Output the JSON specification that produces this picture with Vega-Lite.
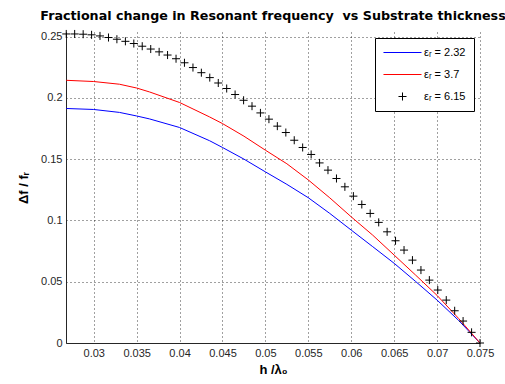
{
  "$schema": "https://vega.github.io/schema/vega-lite/v6.json",
  "width": 414,
  "height": 311,
  "autosize": "none",
  "padding": {"left": 66, "top": 32, "right": 25, "bottom": 41},
  "background": "white",
  "title": {"text": "Fractional change in Resonant frequency \u00a0vs Substrate thickness", "font": "DejaVu Sans", "fontSize": 12.7, "fontWeight": "bold", "color": "#000000", "offset": 5, "anchor": "middle"},
  "config": {
    "view": {"stroke": null},
    "axis": {
      "labelFont": "Liberation Sans", "labelFontSize": 11, "labelColor": "#262626", "labelFlush": false,
      "titleFont": "Liberation Sans", "titleFontSize": 13, "titleFontWeight": "bold", "titleColor": "#000000",
      "domainColor": "#262626", "domainWidth": 1, "ticks": false,
      "grid": true, "gridColor": "#000000", "gridDash": [1, 3], "gridOpacity": 0.75, "gridWidth": 1
    },
    "legend": {
      "orient": "top-right", "offset": 6, "padding": 8, "strokeColor": "#000000", "fillColor": "#ffffff",
      "labelFont": "Liberation Sans", "labelFontSize": 11, "labelColor": "#000000", "labelOffset": 15,
      "symbolSize": 144, "symbolOffset": 13, "symbolStrokeWidth": 1, "title": null, "rowPadding": 10
    }
  },
  "data": {"values": [
    {"series": "εᵣ = 2.32", "x": 0.0268, "y": 0.1913},
    {"series": "εᵣ = 2.32", "x": 0.0300, "y": 0.1905},
    {"series": "εᵣ = 2.32", "x": 0.0330, "y": 0.1881},
    {"series": "εᵣ = 2.32", "x": 0.0350, "y": 0.1852},
    {"series": "εᵣ = 2.32", "x": 0.0365, "y": 0.1828},
    {"series": "εᵣ = 2.32", "x": 0.0400, "y": 0.1758},
    {"series": "εᵣ = 2.32", "x": 0.0435, "y": 0.1650},
    {"series": "εᵣ = 2.32", "x": 0.0450, "y": 0.1595},
    {"series": "εᵣ = 2.32", "x": 0.0475, "y": 0.1500},
    {"series": "εᵣ = 2.32", "x": 0.0500, "y": 0.1396},
    {"series": "εᵣ = 2.32", "x": 0.0525, "y": 0.1294},
    {"series": "εᵣ = 2.32", "x": 0.0550, "y": 0.1185},
    {"series": "εᵣ = 2.32", "x": 0.0575, "y": 0.1057},
    {"series": "εᵣ = 2.32", "x": 0.0600, "y": 0.0921},
    {"series": "εᵣ = 2.32", "x": 0.0625, "y": 0.0786},
    {"series": "εᵣ = 2.32", "x": 0.0650, "y": 0.0650},
    {"series": "εᵣ = 2.32", "x": 0.0675, "y": 0.0502},
    {"series": "εᵣ = 2.32", "x": 0.0700, "y": 0.0350},
    {"series": "εᵣ = 2.32", "x": 0.0725, "y": 0.0185},
    {"series": "εᵣ = 2.32", "x": 0.0750, "y": 0.0000},
    {"series": "εᵣ = 3.7", "x": 0.0268, "y": 0.2143},
    {"series": "εᵣ = 3.7", "x": 0.0300, "y": 0.2133},
    {"series": "εᵣ = 3.7", "x": 0.0330, "y": 0.2111},
    {"series": "εᵣ = 3.7", "x": 0.0350, "y": 0.2080},
    {"series": "εᵣ = 3.7", "x": 0.0365, "y": 0.2048},
    {"series": "εᵣ = 3.7", "x": 0.0400, "y": 0.1962},
    {"series": "εᵣ = 3.7", "x": 0.0435, "y": 0.1844},
    {"series": "εᵣ = 3.7", "x": 0.0450, "y": 0.1790},
    {"series": "εᵣ = 3.7", "x": 0.0475, "y": 0.1687},
    {"series": "εᵣ = 3.7", "x": 0.0500, "y": 0.1573},
    {"series": "εᵣ = 3.7", "x": 0.0525, "y": 0.1462},
    {"series": "εᵣ = 3.7", "x": 0.0550, "y": 0.1330},
    {"series": "εᵣ = 3.7", "x": 0.0575, "y": 0.1184},
    {"series": "εᵣ = 3.7", "x": 0.0600, "y": 0.1029},
    {"series": "εᵣ = 3.7", "x": 0.0625, "y": 0.0880},
    {"series": "εᵣ = 3.7", "x": 0.0650, "y": 0.0717},
    {"series": "εᵣ = 3.7", "x": 0.0675, "y": 0.0554},
    {"series": "εᵣ = 3.7", "x": 0.0700, "y": 0.0388},
    {"series": "εᵣ = 3.7", "x": 0.0725, "y": 0.0201},
    {"series": "εᵣ = 3.7", "x": 0.0750, "y": 0.0000},
    {"series": "εᵣ = 6.15", "x": 0.02680, "y": 0.2521},
    {"series": "εᵣ = 6.15", "x": 0.02778, "y": 0.2521},
    {"series": "εᵣ = 6.15", "x": 0.02877, "y": 0.2519},
    {"series": "εᵣ = 6.15", "x": 0.02975, "y": 0.2514},
    {"series": "εᵣ = 6.15", "x": 0.03073, "y": 0.2505},
    {"series": "εᵣ = 6.15", "x": 0.03172, "y": 0.2492},
    {"series": "εᵣ = 6.15", "x": 0.03270, "y": 0.2478},
    {"series": "εᵣ = 6.15", "x": 0.03369, "y": 0.2461},
    {"series": "εᵣ = 6.15", "x": 0.03467, "y": 0.2443},
    {"series": "εᵣ = 6.15", "x": 0.03565, "y": 0.2421},
    {"series": "εᵣ = 6.15", "x": 0.03664, "y": 0.2398},
    {"series": "εᵣ = 6.15", "x": 0.03762, "y": 0.2375},
    {"series": "εᵣ = 6.15", "x": 0.03860, "y": 0.2349},
    {"series": "εᵣ = 6.15", "x": 0.03959, "y": 0.2319},
    {"series": "εᵣ = 6.15", "x": 0.04057, "y": 0.2286},
    {"series": "εᵣ = 6.15", "x": 0.04156, "y": 0.2247},
    {"series": "εᵣ = 6.15", "x": 0.04254, "y": 0.2205},
    {"series": "εᵣ = 6.15", "x": 0.04352, "y": 0.2165},
    {"series": "εᵣ = 6.15", "x": 0.04451, "y": 0.2121},
    {"series": "εᵣ = 6.15", "x": 0.04549, "y": 0.2076},
    {"series": "εᵣ = 6.15", "x": 0.04647, "y": 0.2027},
    {"series": "εᵣ = 6.15", "x": 0.04746, "y": 0.1980},
    {"series": "εᵣ = 6.15", "x": 0.04844, "y": 0.1932},
    {"series": "εᵣ = 6.15", "x": 0.04942, "y": 0.1877},
    {"series": "εᵣ = 6.15", "x": 0.05041, "y": 0.1826},
    {"series": "εᵣ = 6.15", "x": 0.05139, "y": 0.1769},
    {"series": "εᵣ = 6.15", "x": 0.05238, "y": 0.1717},
    {"series": "εᵣ = 6.15", "x": 0.05336, "y": 0.1654},
    {"series": "εᵣ = 6.15", "x": 0.05434, "y": 0.1595},
    {"series": "εᵣ = 6.15", "x": 0.05533, "y": 0.1538},
    {"series": "εᵣ = 6.15", "x": 0.05631, "y": 0.1469},
    {"series": "εᵣ = 6.15", "x": 0.05729, "y": 0.1410},
    {"series": "εᵣ = 6.15", "x": 0.05828, "y": 0.1342},
    {"series": "εᵣ = 6.15", "x": 0.05926, "y": 0.1274},
    {"series": "εᵣ = 6.15", "x": 0.06025, "y": 0.1198},
    {"series": "εᵣ = 6.15", "x": 0.06123, "y": 0.1130},
    {"series": "εᵣ = 6.15", "x": 0.06221, "y": 0.1057},
    {"series": "εᵣ = 6.15", "x": 0.06320, "y": 0.0984},
    {"series": "εᵣ = 6.15", "x": 0.06418, "y": 0.0907},
    {"series": "εᵣ = 6.15", "x": 0.06516, "y": 0.0834},
    {"series": "εᵣ = 6.15", "x": 0.06615, "y": 0.0758},
    {"series": "εᵣ = 6.15", "x": 0.06713, "y": 0.0676},
    {"series": "εᵣ = 6.15", "x": 0.06812, "y": 0.0595},
    {"series": "εᵣ = 6.15", "x": 0.06910, "y": 0.0513},
    {"series": "εᵣ = 6.15", "x": 0.07008, "y": 0.0432},
    {"series": "εᵣ = 6.15", "x": 0.07107, "y": 0.0350},
    {"series": "εᵣ = 6.15", "x": 0.07205, "y": 0.0263},
    {"series": "εᵣ = 6.15", "x": 0.07303, "y": 0.0179},
    {"series": "εᵣ = 6.15", "x": 0.07402, "y": 0.0087},
    {"series": "εᵣ = 6.15", "x": 0.07500, "y": 0.0000}
  ]},
  "encoding": {
    "x": {"field": "x", "type": "quantitative", "title": "h /λ₀",
      "scale": {"domain": [0.02677, 0.075], "nice": false, "zero": false},
      "axis": {"values": [0.03, 0.035, 0.04, 0.045, 0.05, 0.055, 0.06, 0.065, 0.07, 0.075], "format": ".3~f", "labelPadding": 4, "titlePadding": 5}},
    "y": {"field": "y", "type": "quantitative", "title": "Δf / fᵣ",
      "scale": {"domain": [0, 0.2537], "nice": false, "zero": false},
      "axis": {"values": [0, 0.05, 0.1, 0.15, 0.2, 0.25], "format": ".2~f", "labelPadding": 4, "titlePadding": 10}}
  },
  "layer": [
    {
      "transform": [{"filter": "datum.series != 'εᵣ = 6.15'"}],
      "mark": {"type": "line", "strokeWidth": 1},
      "encoding": {
        "color": {"field": "series", "type": "nominal",
          "scale": {"domain": ["εᵣ = 2.32", "εᵣ = 3.7", "εᵣ = 6.15"], "range": ["#0000ff", "#ff0000", "#000000"]}}
      }
    },
    {
      "transform": [{"filter": "datum.series == 'εᵣ = 6.15'"}],
      "mark": {"type": "point", "filled": false, "size": 144, "strokeWidth": 1, "opacity": 1, "clip": false},
      "encoding": {
        "color": {"field": "series", "type": "nominal",
          "scale": {"domain": ["εᵣ = 2.32", "εᵣ = 3.7", "εᵣ = 6.15"], "range": ["#0000ff", "#ff0000", "#000000"]},
          "legend": {"encode": {"symbols": {"update": {"stroke": {"scale": "color", "field": "value"}, "fill": {"value": "transparent"}, "strokeWidth": {"value": 1}}}}}},
        "shape": {"field": "series", "type": "nominal",
          "scale": {"domain": ["εᵣ = 2.32", "εᵣ = 3.7", "εᵣ = 6.15"], "range": ["M-3.17,0H3.17", "M-3.17,0H3.17", "M-0.67,0H0.67M0,-0.67V0.67"]}}
      }
    }
  ]
}
